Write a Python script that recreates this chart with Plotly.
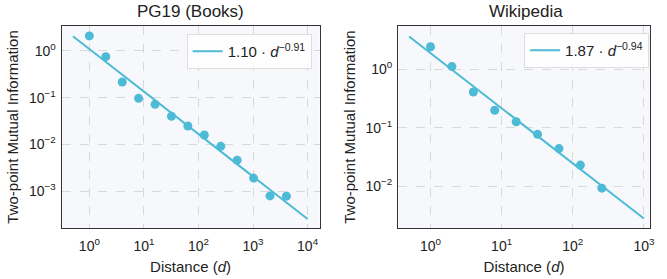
import numpy as np
import plotly.graph_objects as go

# Data
pg_d = [1, 2, 4, 8, 16, 32, 64, 128, 256, 512, 1024, 2048, 4096]
pg_mi = [2.1, 0.755, 0.217, 0.097, 0.072, 0.040, 0.0248, 0.0159, 0.0091, 0.0046, 0.0019, 0.00079, 0.00078]
pg_fit = (1.10, -0.91)
pg_range = (0.5, 1e4)

wk_d = [1, 2, 4, 8, 16, 32, 64, 128, 256]
wk_mi = [2.4, 1.1, 0.405, 0.198, 0.126, 0.077, 0.044, 0.023, 0.0093]
wk_fit = (1.87, -0.94)
wk_range = (0.5, 1e3)

titles = ["PG19 (Books)", "Wikipedia"]
pg_xticks = [0, 1, 2, 3, 4]
pg_yticks = [0, -1, -2, -3]
wk_xticks = [0, 1, 2, 3]
wk_yticks = [0, -1, -2]

color = "#4DBBD5"
font = "Liberation Sans, Arial, sans-serif"

W, H = 667, 279
def fx(px):
    return px / W
def fy(py):
    return 1 - py / H

fig = go.Figure()

def add_panel(i, d, mi, fit, rng):
    xa = "x" if i == 0 else "x2"
    ya = "y" if i == 0 else "y2"
    lg = "legend" if i == 0 else "legend2"
    xs = np.logspace(np.log10(rng[0]), np.log10(rng[1]), 100)
    a, b = fit
    fig.add_trace(go.Scatter(x=xs, y=a * xs ** b, mode="lines",
                             line=dict(color=color, width=2),
                             name=f"{a:.2f} · <i>d</i><sup>−{abs(b):.2f}</sup>",
                             xaxis=xa, yaxis=ya, legend=lg, showlegend=True))
    fig.add_trace(go.Scatter(x=d, y=mi, mode="markers",
                             marker=dict(color=color, size=9),
                             xaxis=xa, yaxis=ya, showlegend=False))

add_panel(0, pg_d, pg_mi, pg_fit, pg_range)
add_panel(1, wk_d, wk_mi, wk_fit, wk_range)

def pw(e):
    return "10<sup>%s</sup>" % (str(e).replace("-", "−"))

axis_common = dict(type="log", showgrid=True, gridcolor="#d9d9d9", griddash="dash", gridwidth=1,
                   showline=True, linecolor="#333333", linewidth=1, mirror=True,
                   ticks="", zeroline=False, ticklabeloverflow="allow",
                   tickfont=dict(family=font, size=14, color="#222"))

tfont = dict(size=15, family=font, color="#222")
lfont = dict(size=15, family=font, color="#222")

fig.update_layout(
    width=W, height=H,
    margin=dict(l=0, r=0, t=0, b=0),
    paper_bgcolor="white", plot_bgcolor="#F7F8FC",
    font=dict(family=font, color="#222"),
    xaxis=dict(axis_common, domain=[fx(62), fx(322)], range=[-0.51, 4.22],
               tickvals=[10 ** e for e in pg_xticks], ticktext=[pw(e) for e in pg_xticks],
               ticklabelstandoff=5,
               title=dict(text="Distance (<i>d</i>)", font=tfont, standoff=8)),
    yaxis=dict(axis_common, domain=[fy(228), fy(26)], range=[-3.79, 0.535],
               tickvals=[10 ** e for e in pg_yticks], ticktext=[pw(e) for e in pg_yticks],
               ticklabelstandoff=2,
               title=dict(text="Two-point Mutual Information", font=tfont, standoff=6)),
    xaxis2=dict(axis_common, domain=[fx(401), fx(655)], range=[-0.457, 3.087], anchor="y2",
                tickvals=[10 ** e for e in wk_xticks], ticktext=[pw(e) for e in wk_xticks],
                ticklabelstandoff=5,
                title=dict(text="Distance (<i>d</i>)", font=tfont, standoff=8)),
    yaxis2=dict(axis_common, domain=[fy(228), fy(26)], range=[-2.71, 0.733], anchor="x2",
                tickvals=[10 ** e for e in wk_yticks], ticktext=[pw(e) for e in wk_yticks],
                ticklabelstandoff=2,
                title=dict(text="Two-point Mutual Information", font=tfont, standoff=6)),
    legend=dict(x=fx(314), y=fy(34), xanchor="right", yanchor="top",
                bgcolor="rgba(255,255,255,0.8)", bordercolor="#dddddd", borderwidth=1,
                font=lfont),
    legend2=dict(x=fx(654), y=fy(33), xanchor="right", yanchor="top",
                 bgcolor="rgba(255,255,255,0.8)", bordercolor="#dddddd", borderwidth=1,
                 font=lfont),
    annotations=[
        dict(text=titles[0], x=fx(192), y=fy(12), xref="paper", yref="paper", xanchor="center",
             yanchor="middle", showarrow=False, font=dict(size=17, family=font, color="#222")),
        dict(text=titles[1], x=fx(530), y=fy(12), xref="paper", yref="paper", xanchor="center",
             yanchor="middle", showarrow=False, font=dict(size=17, family=font, color="#222")),
    ],
)

# remove the browser's default 8px page margin so the figure sits at the top-left corner
fig.write_html("out.html", config={"displayModeBar": False},
               post_script="document.body.style.margin='0';")
